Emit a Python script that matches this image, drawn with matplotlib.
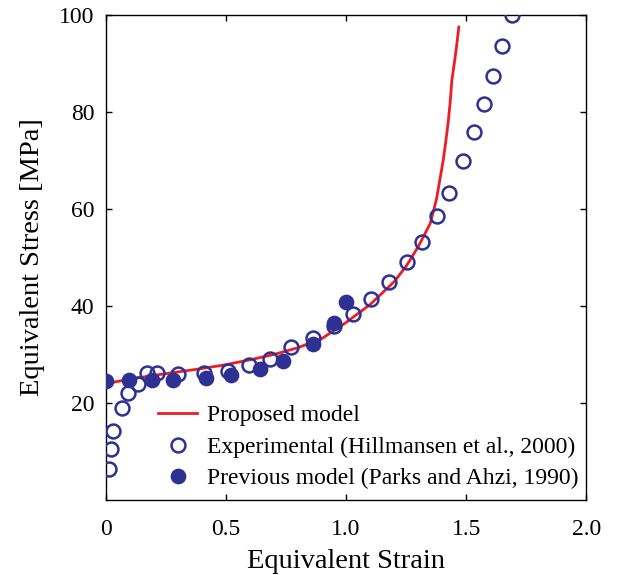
import matplotlib
matplotlib.use('Agg')
import matplotlib.pyplot as plt

# Proposed model (red curve)
model_strain = [0.0, 0.1, 0.2, 0.3, 0.4, 0.5, 0.6, 0.7, 0.8, 0.9, 1.0, 1.1,
                1.2, 1.25, 1.3, 1.35, 1.376, 1.39, 1.404, 1.415, 1.425, 1.433,
                1.44, 1.45, 1.457, 1.463, 1.469]
model_stress = [24.0, 24.9, 25.7, 26.4, 27.1, 27.9, 28.9, 30.0, 31.4, 33.3,
                36.6, 40.3, 45.0, 48.2, 52.2, 57.0, 62.0, 66.0, 70.0, 74.0,
                78.0, 82.0, 86.5, 90.0, 92.5, 95.0, 97.5]

# Experimental (Hillmansen et al., 2000)
exp_strain = [0.015, 0.021, 0.032, 0.069, 0.094, 0.136, 0.173, 0.212, 0.301,
              0.410, 0.510, 0.597, 0.685, 0.770, 0.861, 0.951, 1.027, 1.102,
              1.179, 1.252, 1.315, 1.380, 1.429, 1.488, 1.533, 1.573, 1.612,
              1.649, 1.691]
exp_stress = [6.3, 10.6, 14.2, 18.9, 22.0, 24.0, 26.1, 26.2, 26.0, 26.1,
              26.6, 27.8, 29.1, 31.5, 33.3, 35.9, 38.3, 41.4, 44.9, 49.0,
              53.2, 58.5, 63.3, 69.9, 75.8, 81.7, 87.5, 93.5, 100.0]

# Previous model (Parks and Ahzi, 1990)
prev_strain = [0.0, 0.098, 0.191, 0.280, 0.418, 0.521, 0.640, 0.736, 0.861,
               0.949, 0.999]
prev_stress = [24.6, 24.7, 24.7, 24.7, 25.1, 25.7, 27.1, 28.6, 32.1, 36.4,
               40.9]

blue = '#2e3192'
red = '#ee1c25'
plt.rcParams['font.family'] = ['Liberation Serif', 'DejaVu Serif']

fig = plt.figure(figsize=(6.18, 5.75), dpi=100)
ax = fig.add_axes([0.171, 0.1304, 0.778, 0.8437])

ax.plot(model_strain, model_stress, color=red, linewidth=2,
        label='Proposed model', zorder=2)
ax.plot(exp_strain, exp_stress, linestyle='none', marker='o', markersize=10,
        markerfacecolor='none', markeredgecolor=blue, markeredgewidth=1.8,
        label='Experimental (Hillmansen et al., 2000)', zorder=3)
ax.plot(prev_strain, prev_stress, linestyle='none', marker='o',
        markersize=10.3, color=blue,
        label='Previous model (Parks and Ahzi, 1990)', zorder=4)

ax.set_xlim(0, 2.0)
ax.set_ylim(0, 100)
ax.set_xticks([0, 0.5, 1.0, 1.5, 2.0])
ax.set_xticklabels(['0', '0.5', '1.0', '1.5', '2.0'])
ax.set_yticks([20, 40, 60, 80, 100])
ax.tick_params(direction='in', top=True, right=True, length=4, width=1,
               labelsize=17)
ax.tick_params(axis='x', pad=14)
ax.tick_params(axis='y', pad=8)
for s in ax.spines.values():
    s.set_linewidth(1)

ax.set_xlabel('Equivalent Strain', fontsize=20.5, labelpad=6)
ax.set_ylabel('Equivalent Stress [MPa]', fontsize=20.5, labelpad=10)

ax.legend(loc='lower left', bbox_to_anchor=(0.109, 0.022), frameon=False,
          fontsize=17, handlelength=1.65, labelspacing=0.42,
          handletextpad=0.42, borderpad=0, borderaxespad=0)

fig.savefig('out.png', dpi=100)
